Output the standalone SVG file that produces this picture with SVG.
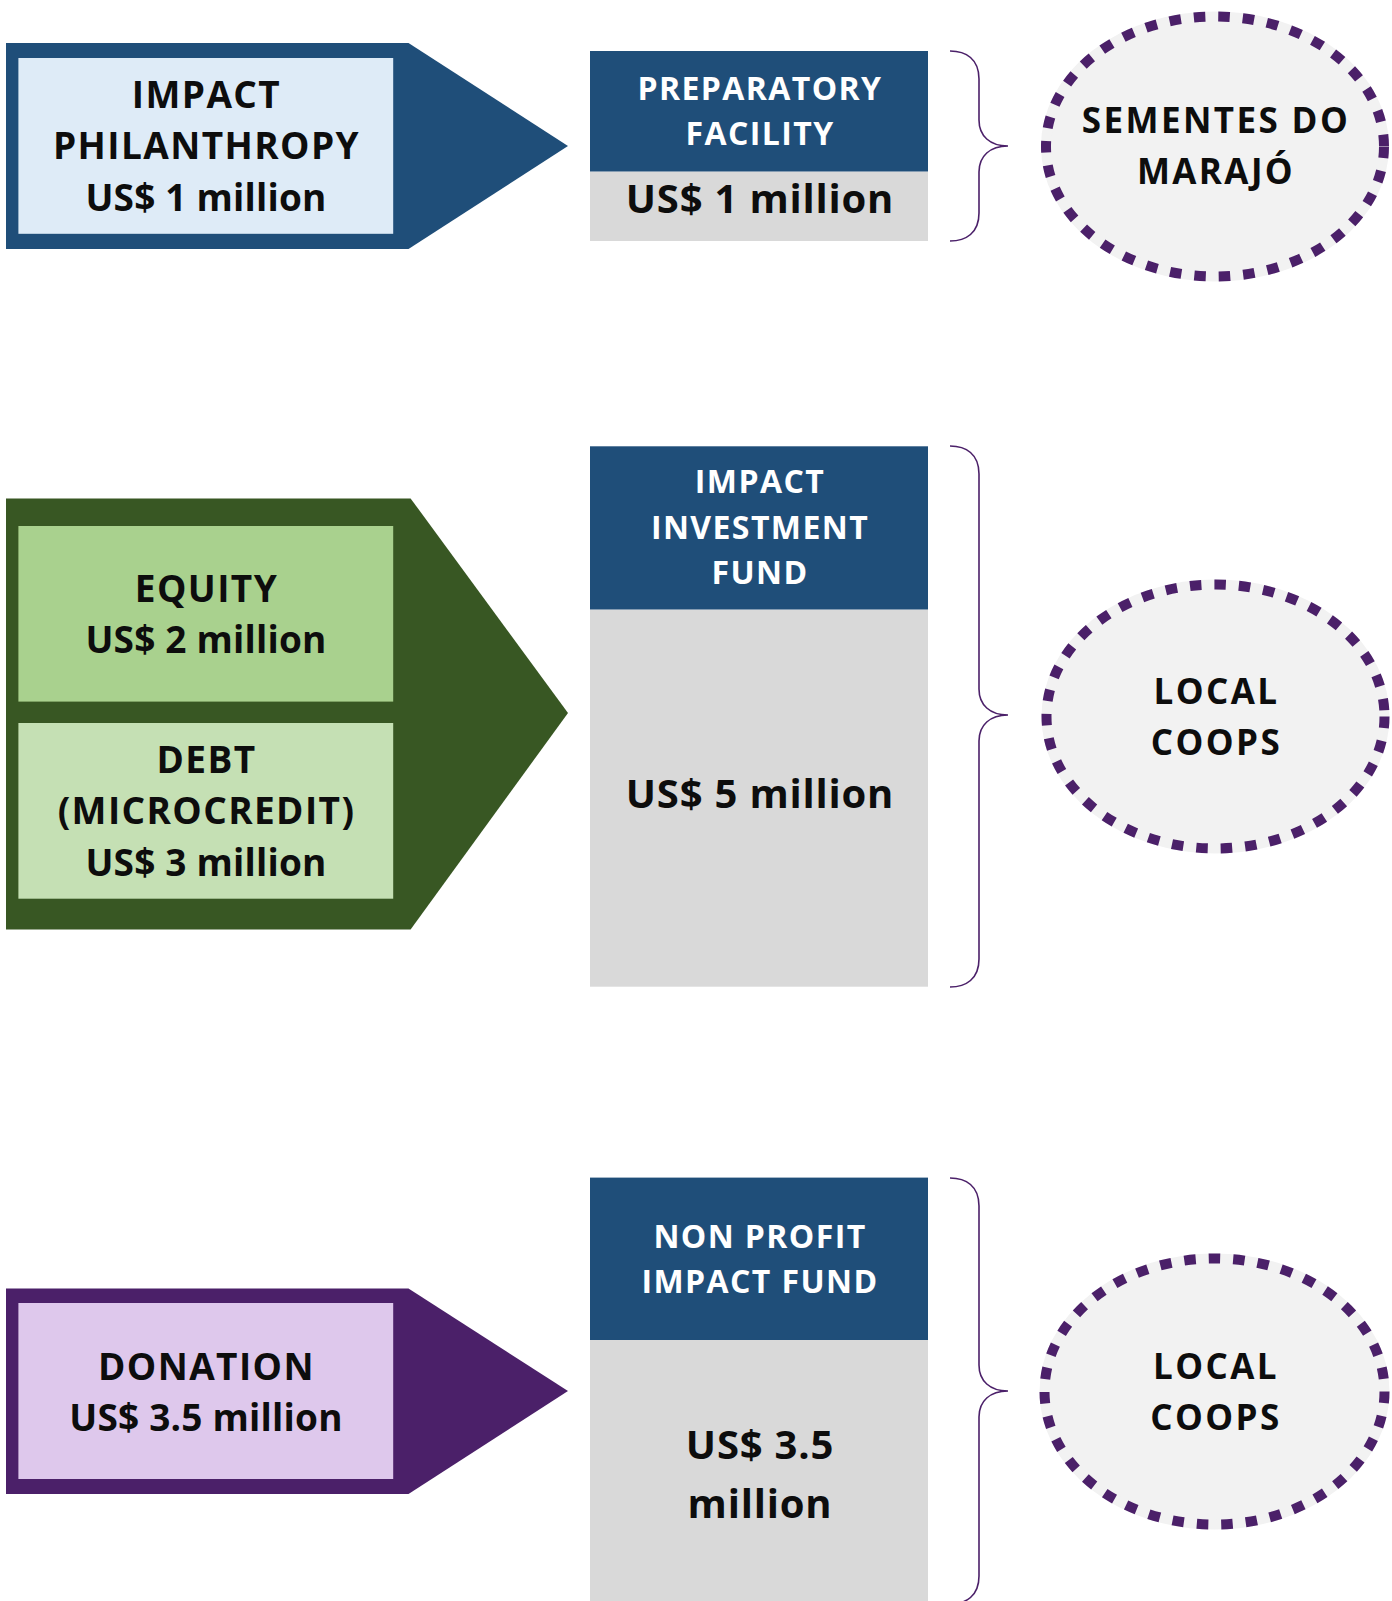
<svg xmlns="http://www.w3.org/2000/svg" width="1392" height="1601" viewBox="0 0 1392 1601">
  <style>
    .lbl { font-family: "Open Sans", "Liberation Sans", sans-serif; font-weight: 700; text-anchor: middle; }
    .dark { fill: #0d0d0d; font-size: 37px; letter-spacing: 1.4px; }
    .money { letter-spacing: 0.2px; }
    .head { fill: #ffffff; font-size: 32px; letter-spacing: 1.4px; }
    .val { fill: #0d0d0d; font-size: 40px; letter-spacing: 0.8px; }
    .coop { fill: #0d0d0d; font-size: 35px; letter-spacing: 2.4px; }
    .hdr { fill: #1f4e79; }
    .body { fill: #d9d9d9; }
    .halo { fill: #f2f2f2; stroke: #f2f2f2; stroke-width: 10; }
    .ring { fill: none; stroke: #4b2069; stroke-width: 10; stroke-dasharray: 11.5 13; }
    .brace { fill: none; stroke: #4b2069; stroke-width: 1.6; }
  </style>

  <!-- Funding sources (arrow shapes) -->
  <g id="src-philanthropy">
    <polygon points="6,43 408.5,43 568,146 408.5,249 6,249" fill="#1f4e79"/>
    <rect x="18.4" y="58" width="374.8" height="175.8" fill="#deebf7"/>
    <text class="lbl dark" x="206.5" y="108">IMPACT</text>
    <text class="lbl dark" x="206.5" y="159">PHILANTHROPY</text>
    <text class="lbl dark money" x="206" y="211">US$ 1 million</text>
  </g>

  <g id="src-investment">
    <polygon points="6,498.4 410.6,498.4 568,713 410.6,929.4 6,929.4" fill="#385723"/>
    <g id="src-equity">
      <rect x="18.4" y="526" width="374.8" height="175.6" fill="#a9d18e"/>
      <text class="lbl dark" x="206.5" y="602">EQUITY</text>
      <text class="lbl dark money" x="206" y="653">US$ 2 million</text>
    </g>
    <g id="src-debt">
      <rect x="18.4" y="723" width="374.8" height="175.7" fill="#c5e0b4"/>
      <text class="lbl dark" x="206.5" y="773">DEBT</text>
      <text class="lbl dark" x="206.5" y="824">(MICROCREDIT)</text>
      <text class="lbl dark money" x="206" y="876">US$ 3 million</text>
    </g>
  </g>

  <g id="src-donation">
    <polygon points="6,1288.5 408.5,1288.5 568,1391 408.5,1494 6,1494" fill="#4b2069"/>
    <rect x="18.4" y="1303" width="374.8" height="176" fill="#dec8ec"/>
    <text class="lbl dark" x="206.5" y="1380">DONATION</text>
    <text class="lbl dark money" x="206" y="1431">US$ 3.5 million</text>
  </g>

  <!-- Funds -->
  <g id="fund-preparatory">
    <rect class="hdr" x="590" y="51" width="338" height="120.7"/>
    <rect class="body" x="590" y="171.7" width="338" height="69.3"/>
    <text class="lbl head" x="760" y="100">PREPARATORY</text>
    <text class="lbl head" x="760" y="145">FACILITY</text>
    <text class="lbl val" x="760" y="213">US$ 1 million</text>
  </g>

  <g id="fund-impact-investment">
    <rect class="hdr" x="590" y="446.3" width="338" height="163.4"/>
    <rect class="body" x="590" y="609.7" width="338" height="377"/>
    <text class="lbl head" x="760" y="493">IMPACT</text>
    <text class="lbl head" x="760" y="539">INVESTMENT</text>
    <text class="lbl head" x="760" y="584">FUND</text>
    <text class="lbl val" x="760" y="808">US$ 5 million</text>
  </g>

  <g id="fund-nonprofit">
    <rect class="hdr" x="590" y="1177.6" width="338" height="162.4"/>
    <rect class="body" x="590" y="1340" width="338" height="261"/>
    <text class="lbl head" x="760" y="1248">NON PROFIT</text>
    <text class="lbl head" x="760" y="1293">IMPACT FUND</text>
    <text class="lbl val" x="760" y="1459">US$ 3.5</text>
    <text class="lbl val" x="760" y="1518">million</text>
  </g>

  <!-- Beneficiaries -->
  <g id="ben-sementes">
    <ellipse class="halo" cx="1215" cy="146.5" rx="169" ry="130"/>
    <ellipse class="ring" cx="1215" cy="146.5" rx="169" ry="130"/>
    <text class="lbl coop" x="1216" y="133">SEMENTES DO</text>
    <text class="lbl coop" x="1216" y="184">MARAJÓ</text>
  </g>

  <g id="ben-coops-1">
    <ellipse class="halo" cx="1215.5" cy="716.5" rx="169" ry="132"/>
    <ellipse class="ring" cx="1215.5" cy="716.5" rx="169" ry="132"/>
    <text class="lbl coop" x="1216.5" y="703.5">LOCAL</text>
    <text class="lbl coop" x="1216.5" y="755">COOPS</text>
  </g>

  <g id="ben-coops-2">
    <ellipse class="halo" cx="1214.5" cy="1391.5" rx="170" ry="133"/>
    <ellipse class="ring" cx="1214.5" cy="1391.5" rx="170" ry="133"/>
    <text class="lbl coop" x="1216" y="1379">LOCAL</text>
    <text class="lbl coop" x="1216" y="1430">COOPS</text>
  </g>

  <!-- Connectors: braces grouping each fund toward its beneficiary -->
  <g id="connectors">
    <path class="brace" d="M950,51 C966,51 979,59 979,79 L979,120 C979,136 990,146 1008,146 C990,146 979,156 979,172 L979,213 C979,233 966,241 950,241"/>
    <path class="brace" d="M950,446 C966,446 979,454 979,474 L979,689 C979,705 990,715 1008,715 C990,715 979,725 979,741 L979,959 C979,979 966,987 950,987"/>
    <path class="brace" d="M950,1178 C966,1178 979,1186 979,1206 L979,1365 C979,1381 990,1391 1008,1391 C990,1391 979,1401 979,1417 L979,1576 C979,1596 966,1604 950,1604"/>
  </g>
</svg>
